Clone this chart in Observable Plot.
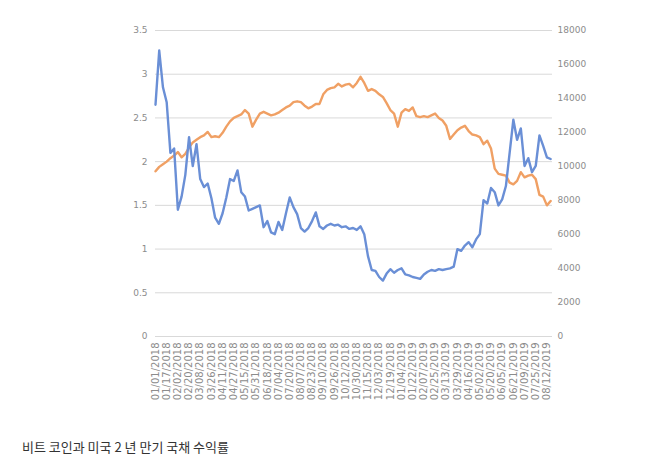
<!DOCTYPE html>
<html>
<head>
<meta charset="utf-8">
<script src="https://cdn.jsdelivr.net/npm/d3@7"></script>
<script src="https://cdn.jsdelivr.net/npm/@observablehq/plot@0.6"></script>
<style>
  body { margin: 0; background: #fff; }
  #wrap { position: relative; width: 667px; height: 475px; overflow: hidden; }
  #chart svg { display: block; }
  #caption { position: absolute; left: 22px; top: 437px; font: 13px "Noto Sans CJK KR", "Noto Sans", sans-serif; color: #333; }
</style>
</head>
<body>
<div id="wrap"><div id="chart"></div><div id="caption"></div></div>
<script>
// x-axis category labels (one every 12 trading days)
const tickLabels = [
  "01/01/2018","01/17/2018","02/02/2018","02/20/2018","03/08/2018","03/26/2018",
  "04/11/2018","04/27/2018","05/15/2018","05/31/2018","06/18/2018","07/04/2018",
  "07/20/2018","08/07/2018","08/23/2018","09/10/2018","09/26/2018","10/12/2018",
  "10/30/2018","11/15/2018","12/03/2018","12/19/2018","01/04/2019","01/22/2019",
  "02/07/2019","02/25/2019","03/13/2019","03/29/2019","04/16/2019","05/02/2019",
  "05/20/2019","06/05/2019","06/21/2019","07/09/2019","07/25/2019","08/12/2019"
];
const daysPerLabel = 12;   // trading days between labels
const daysPerSample = 4;   // trading days between samples below
const lastDay = 426;

// US 2-year treasury yield (%), left axis, sampled every 4 trading days
const yieldValues = [
  1.89,1.94,1.97,2.00,2.04,2.07,2.11,2.05,2.09,2.16,
  2.22,2.25,2.28,2.30,2.34,2.28,2.29,2.28,2.33,2.40,
  2.46,2.50,2.52,2.54,2.59,2.55,2.40,2.48,2.55,2.57,
  2.55,2.53,2.54,2.56,2.59,2.62,2.64,2.68,2.69,2.68,
  2.64,2.61,2.63,2.66,2.66,2.77,2.82,2.84,2.85,2.89,
  2.86,2.88,2.89,2.85,2.90,2.97,2.90,2.81,2.83,2.81,
  2.77,2.74,2.67,2.59,2.55,2.40,2.56,2.60,2.58,2.62,
  2.52,2.51,2.52,2.51,2.53,2.55,2.50,2.47,2.41,2.26,
  2.31,2.36,2.39,2.41,2.35,2.31,2.30,2.28,2.20,2.24,
  2.15,1.92,1.86,1.85,1.84,1.76,1.74,1.78,1.88,1.82,
  1.84,1.85,1.80,1.62,1.60,1.50,1.55
];

// Bitcoin price (USD), right axis, sampled every 4 trading days
const btcValues = [
  13630,16820,14660,13780,10800,11060,7460,8230,9510,11730,
  10030,11310,9260,8790,9000,8130,6990,6630,7250,8180,
  9260,9150,9770,8490,8230,7410,7510,7610,7710,6430,
  6790,6120,6020,6740,6270,7250,8180,7610,7200,6380,
  6170,6380,6790,7300,6480,6330,6530,6630,6530,6580,
  6430,6480,6330,6380,6270,6480,6020,4730,3910,3860,
  3500,3290,3700,3960,3750,3910,4010,3650,3600,3500,
  3450,3390,3650,3810,3910,3860,3960,3910,3960,4010,
  4110,5140,5040,5350,5550,5250,5710,6020,8020,7820,
  8740,8490,7710,8070,8850,10800,12750,11570,12240,10030,
  10490,9670,10030,11830,11210,10540,10440
];

const leftTicks = [0, 0.5, 1, 1.5, 2, 2.5, 3, 3.5];
const rightTicks = [0, 2000, 4000, 6000, 8000, 10000, 12000, 14000, 16000, 18000];
const captionText = "비트 코인과 미국 2 년 만기 국채 수익률";

const LEFT_MAX = 3.5, RIGHT_MAX = 18000;
const toLeft = b => b * LEFT_MAX / RIGHT_MAX;

const rows = yieldValues.map((v, j) => ({ day: j * daysPerSample, yld: v, btc: btcValues[j] }));
const labelDays = tickLabels.map((_, k) => k * daysPerLabel);

const chart = Plot.plot({
  width: 667,
  height: 420,
  marginLeft: 155,
  marginRight: 115,
  marginTop: 30,
  marginBottom: 84,
  style: { fontFamily: "DejaVu Sans, sans-serif", background: "#fff" },
  x: { domain: [0, lastDay], axis: null },
  y: { domain: [0, LEFT_MAX], axis: null },
  marks: [
    Plot.gridY(leftTicks, { stroke: "#d9d9d9", strokeOpacity: 1, strokeWidth: 1 }),
    Plot.axisY(leftTicks, {
      anchor: "left", tickSize: 0, tickPadding: 8, fontSize: 9,
      fill: "#8c8c8c", tickFormat: d => String(d), label: null
    }),
    Plot.axisY(rightTicks.map(toLeft), {
      anchor: "right", tickSize: 0, tickPadding: 5, fontSize: 9,
      fill: "#8c8c8c", tickFormat: d => String(Math.round(d * RIGHT_MAX / LEFT_MAX)), label: null
    }),
    Plot.axisX(labelDays, {
      anchor: "bottom", tickSize: 0, tickPadding: 6, tickRotate: -90, fontSize: 10,
      fill: "#8c8c8c", tickFormat: d => tickLabels[Math.round(d / daysPerLabel)], label: null,
      letterSpacing: "0.6px"
    }),
    Plot.lineY(rows, { x: "day", y: "yld", stroke: "#f0a064", strokeWidth: 2.4, strokeLinejoin: "round" }),
    Plot.lineY(rows, { x: "day", y: d => toLeft(d.btc), stroke: "#6a8fd6", strokeWidth: 2.4, strokeLinejoin: "round" })
  ]
});
document.getElementById("chart").appendChild(chart);
document.getElementById("caption").textContent = captionText;
</script>
</body>
</html>
